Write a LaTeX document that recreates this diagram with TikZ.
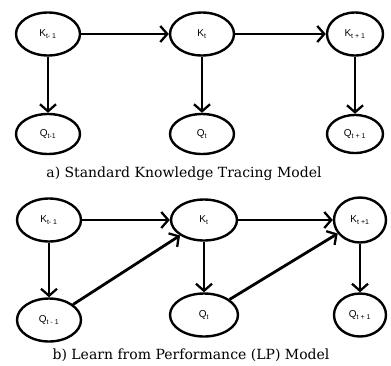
\documentclass[tikz,border=0pt]{standalone}
\usepackage{fontspec}
\setsansfont{Liberation Sans}
\newfontfamily\capfont{DejaVu Serif}
\usetikzlibrary{shapes.geometric,arrows.meta}
\tikzset{
  var/.style={ellipse,draw,line width=2.4pt,minimum width=64pt,minimum height=43pt,inner sep=0pt,font=\sffamily\fontsize{10}{11}\selectfont},
  link/.style={line width=2.8pt,-{Straight Barb[length=7pt,width=16pt,line width=2.3pt]}},
  captext/.style={font=\capfont\fontsize{14}{16}\selectfont,inner sep=0pt}
}
\begin{document}
\begin{tikzpicture}[x=1pt,y=-1pt]
\useasboundingbox (0,0) rectangle (391,365);
% top
\node[var] (a1) at (48,34) {K\textsubscript{t- 1}};
\node[var] (a2) at (202,34) {K\textsubscript{t}};
\node[var,minimum width=56pt] (a3) at (355,34) {K\textsubscript{t + 1}};
\node[var,minimum height=40pt] (b1) at (48,134) {Q\textsubscript{t-1}};
\node[var,minimum height=40pt] (b2) at (202,134) {Q\textsubscript{t}};
\node[var,minimum height=38pt,minimum width=56pt] (b3) at (355,134) {Q\textsubscript{t + 1}};
\draw[link] (a1) -- (a2);
\draw[link] (a2) -- (a3);
\draw[link] (a1) -- (b1);
\draw[link] (a2) -- (b2);
\draw[link] (a3) -- (b3);
\node[captext] (ca) at (184,174) {a) Standard Knowledge Tracing Model};
% bottom
\node[var] (c1) at (49,220) {K\textsubscript{t- 1}};
\node[var,minimum width=66pt,minimum height=41pt] (c2) at (204,220) {K\textsubscript{t}};
\node[var,minimum width=52pt,minimum height=45pt] (c3) at (360,220) {K\textsubscript{t +1}};
\node[var] (d1) at (49,320) {Q\textsubscript{t - 1}};
\node[var,minimum width=68pt] (d2) at (204,315) {Q\textsubscript{t}};
\node[var,minimum width=52pt] (d3) at (360,315) {Q\textsubscript{t + 1}};
\draw[link] (c1) -- (c2);
\draw[link] (c2) -- (c3);
\draw[link] (c1) -- (d1);
\draw[link] (c2) -- (d2);
\draw[link] (c3) -- (d3);
\draw[link] (d1) -- (c2);
\draw[link] (d2) -- (c3);
\node[captext] (cb) at (191,355) {b) Learn from Performance (LP) Model};
\end{tikzpicture}
\end{document}
